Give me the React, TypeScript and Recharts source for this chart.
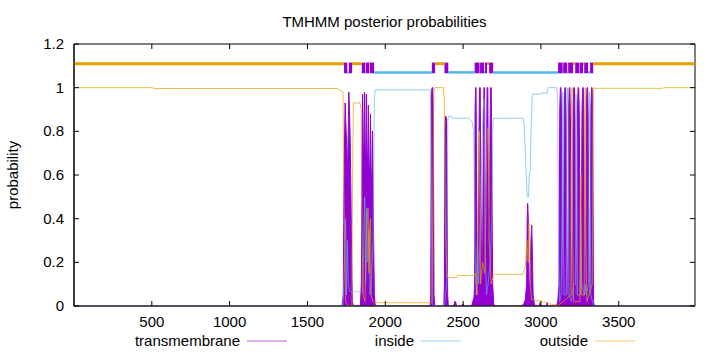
import React from 'react';
import { ComposedChart, Line, Area, XAxis, YAxis, ReferenceLine, ReferenceArea } from 'recharts';

const chartTitle = 'TMHMM posterior probabilities';
const yLabel = 'probability';
const seriesNames = ['transmembrane', 'inside', 'outside'];
const xTicks = [500, 1000, 1500, 2000, 2500, 3000, 3500];
const yTicks = [0, 0.2, 0.4, 0.6, 0.8, 1, 1.2];
const seqLength = 3990;

// posterior probability of transmembrane helix [residue, probability]
const transmembrane: [number, number][] = [
  [0, 0], [1722, 0], [1730, 0.05], [1734, 0.5], [1738, 0.75], [1742, 0.93], [1746, 0.85], [1750, 0.78], [1754, 0.7],
  [1758, 0.6], [1762, 0.8], [1766, 0.98], [1770, 0.9], [1774, 0.78], [1778, 0.6], [1782, 0.35], [1786, 0.12], [1790, 0.02], [1795, 0],
  [1840, 0], [1846, 0.1], [1850, 0.6], [1854, 0.97], [1858, 0.75], [1862, 0.68], [1866, 0.98], [1870, 0.72], [1874, 0.65],
  [1878, 0.97], [1882, 0.72], [1887, 0.65], [1891, 0.92], [1895, 0.65], [1900, 0.6], [1905, 0.88], [1909, 0.62], [1914, 0.58],
  [1918, 0.8], [1922, 0.5], [1926, 0.25], [1930, 0.05], [1936, 0],
  [2288, 0], [2292, 0.05], [2296, 0.95], [2300, 1.0], [2305, 1.0], [2309, 0.9], [2313, 0.05], [2318, 0],
  [2376, 0], [2380, 0.1], [2383, 0.8], [2387, 0.87], [2393, 0.86], [2397, 0.5], [2401, 0.05], [2405, 0],
  [2440, 0], [2446, 0.02], [2452, 0.02], [2458, 0], [2495, 0], [2500, 0.01], [2505, 0],
  [2555, 0], [2562, 0.02], [2570, 0.04], [2574, 0.1], [2577, 0.9], [2580, 1.0], [2583, 1.0], [2586, 0.7], [2591, 0.15],
  [2597, 0.2], [2603, 0.85], [2606, 1.0], [2610, 1.0], [2613, 0.7], [2619, 0.1], [2625, 0.2], [2631, 0.85], [2634, 1.0],
  [2638, 1.0], [2641, 0.6], [2646, 0.2], [2651, 0.7], [2654, 1.0], [2659, 1.0], [2662, 0.5], [2668, 0.15], [2673, 0.8],
  [2677, 1.0], [2681, 1.0], [2685, 0.6], [2690, 0.1], [2697, 0.01], [2702, 0],
  [2875, 0], [2890, 0.01], [2900, 0.03], [2908, 0.1], [2912, 0.4], [2915, 0.47], [2919, 0.4], [2923, 0.1], [2928, 0.08],
  [2936, 0.3], [2941, 0.37], [2945, 0.25], [2950, 0.05], [2958, 0.01], [2965, 0],
  [2990, 0], [2995, 0.015], [3000, 0], [3035, 0], [3040, 0.015], [3045, 0],
  [3100, 0], [3108, 0.02], [3116, 0.1], [3121, 0.9], [3125, 1.0], [3129, 1.0], [3133, 0.85], [3138, 0.05], [3144, 0.05],
  [3150, 0.9], [3154, 1.0], [3158, 1.0], [3162, 0.85], [3167, 0.05], [3173, 0.05], [3178, 0.9], [3182, 1.0], [3186, 1.0],
  [3190, 0.85], [3195, 0.05], [3201, 0.05], [3207, 0.9], [3211, 1.0], [3215, 1.0], [3219, 0.85], [3224, 0.05], [3230, 0.05],
  [3235, 0.9], [3239, 1.0], [3243, 1.0], [3247, 0.85], [3252, 0.05], [3258, 0.05], [3264, 0.9], [3268, 1.0], [3272, 1.0],
  [3276, 0.85], [3281, 0.05], [3287, 0.05], [3292, 0.9], [3296, 1.0], [3300, 1.0], [3304, 0.85], [3309, 0.05], [3315, 0.05],
  [3321, 0.9], [3325, 1.0], [3329, 1.0], [3333, 0.8], [3338, 0.02], [3345, 0], [3990, 0],
];

// posterior probability of inside [residue, probability]
const inside: [number, number][] = [
  [0, 0], [1728, 0], [1738, 0.2], [1745, 0.4], [1750, 0.05], [1756, 0.3], [1762, 0.1], [1770, 0.07], [1780, 0.065],
  [1855, 0.065], [1862, 0.3], [1868, 0.5], [1874, 0.1], [1880, 0.45], [1888, 0.2], [1895, 0.35], [1902, 0.05], [1912, 0.15],
  [1922, 0.3], [1930, 0.95], [1936, 0.99], [2290, 0.99], [2296, 0.5], [2302, 0], [2380, 0], [2395, 0.1], [2402, 0.85],
  [2406, 0.87], [2425, 0.87], [2430, 0.86], [2540, 0.86], [2548, 0.85], [2560, 0.84], [2568, 0.8], [2575, 0.3], [2585, 0.05],
  [2592, 0.3], [2600, 0.1], [2612, 0.4], [2620, 0.7], [2628, 0.9], [2635, 0.95], [2640, 0.3], [2650, 0.05], [2660, 0.1],
  [2675, 0.2], [2685, 0.4], [2692, 0.85], [2698, 0.86], [2885, 0.86], [2892, 0.84], [2900, 0.7], [2912, 0.5], [2920, 0.5],
  [2925, 0.6], [2932, 0.62], [2936, 0.8], [2945, 0.97], [2995, 0.97], [3000, 0.975], [3040, 0.975], [3045, 1.0], [3102, 1.0],
  [3108, 0.95], [3114, 0.2], [3120, 0.02], [3130, 0.05], [3138, 0.6], [3141, 0.98], [3144, 0.3], [3150, 0.05], [3163, 0.05],
  [3167, 0.95], [3170, 1.0], [3174, 0.9], [3180, 0.05], [3196, 0.02], [3210, 0.1], [3222, 0.1], [3225, 0.97], [3229, 0.9],
  [3235, 0.05], [3252, 0.05], [3256, 0.4], [3262, 0.1], [3280, 0.05], [3286, 0.1], [3292, 0.05], [3307, 0.1], [3310, 0.98],
  [3314, 0.9], [3320, 0.05], [3336, 0.01], [3345, 0], [3990, 0],
];

// posterior probability of outside [residue, probability]
const outside: [number, number][] = [
  [0, 1.0], [500, 1.0], [520, 0.996], [1690, 0.996], [1705, 0.99], [1728, 0.98], [1733, 0.55], [1745, 0.02], [1760, 0],
  [1786, 0], [1790, 0.6], [1795, 0.93], [1838, 0.93], [1845, 0.9], [1850, 0.35], [1858, 0.05], [1870, 0.02], [1878, 0.3],
  [1885, 0.42], [1890, 0.45], [1895, 0.15], [1900, 0.35], [1905, 0.4], [1910, 0.05], [1920, 0.02], [1930, 0.015],
  [2292, 0.015], [2300, 0.02], [2312, 0.98], [2318, 1.0], [2374, 1.0], [2379, 0.95], [2388, 0.3], [2398, 0.13], [2460, 0.13],
  [2465, 0.14], [2570, 0.14], [2578, 0.15], [2590, 0.05], [2598, 0.6], [2605, 0.8], [2612, 0.1], [2625, 0.2], [2640, 0.15],
  [2648, 0.55], [2655, 0.8], [2662, 0.82], [2668, 0.3], [2680, 0.1], [2695, 0.14], [2700, 0.145], [2885, 0.145], [2890, 0.16],
  [2900, 0.18], [2910, 0.3], [2918, 0.2], [2923, 0.38], [2928, 0.3], [2933, 0.08], [2940, 0.03], [2960, 0.03], [2970, 0.025],
  [3000, 0.025], [3010, 0.018], [3040, 0.018], [3050, 0.01], [3100, 0.005], [3105, 0], [3193, 0.05], [3197, 0.95], [3200, 1.0],
  [3204, 0.3], [3210, 0.02], [3250, 0.02], [3254, 0.5], [3257, 0.6], [3261, 0.05], [3278, 0.05], [3282, 0.95], [3285, 1.0],
  [3289, 0.3], [3295, 0.02], [3330, 0.1], [3336, 0.9], [3340, 1.0], [3345, 0.997], [3780, 0.997], [3790, 1.0], [3990, 1.0],
];

// predicted topology [start, end]
const outsideSegments: [number, number][] = [
  [0, 1735], [1787, 1849], [1897, 1901], [2320, 2380], [2606, 2609], [2654, 2667],
  [3140, 3143], [3207, 3220], [3271, 3278], [3336, 3990],
];
const insideSegments: [number, number][] = [
  [1756, 1766], [1870, 1874], [1928, 2299], [2405, 2574], [2635, 2641], [2693, 3110],
  [3169, 3175], [3246, 3249], [3303, 3316],
];
const tmSegments: [number, number][] = [
  [1735, 1756], [1766, 1787], [1849, 1870], [1874, 1897], [1901, 1928], [2299, 2320], [2380, 2405],
  [2574, 2606], [2609, 2635], [2641, 2654], [2667, 2693], [3110, 3140], [3143, 3169], [3175, 3207],
  [3220, 3246], [3249, 3271], [3278, 3303], [3316, 3336],
];
const outsideLevel = 1.11;
const insideLevel = 1.07;
const tmLevels: [number, number] = [1.066, 1.115];

const toRows = (pts: [number, number][]) => pts.map(([x, y]) => ({ x, y }));
const tmData = toRows(transmembrane);
const inData = toRows(inside);
const outData = toRows(outside);

const FONT = "'Liberation Sans', Arial, Helvetica, sans-serif";
const PURPLE = '#9400d3';
const BLUE = '#56b4e9';
const ORANGE = '#e69f00';
const PLOT_TOP = 44;
const PLOT_RIGHT = 695;

const XTick = (props: any) => {
  const { x, y, payload } = props;
  return (
    <g>
      <line x1={x} x2={x} y1={y} y2={y - 5} stroke="#000" />
      <line x1={x} x2={x} y1={PLOT_TOP} y2={PLOT_TOP + 5} stroke="#000" />
      <text x={x} y={y + 21} textAnchor="middle" fontFamily={FONT} fontSize={15} fill="#000">
        {payload.value}
      </text>
    </g>
  );
};

const YTick = (props: any) => {
  const { x, y, payload } = props;
  return (
    <g>
      <line x1={x} x2={x + 5} y1={y} y2={y} stroke="#000" />
      <line x1={PLOT_RIGHT} x2={PLOT_RIGHT - 5} y1={y} y2={y} stroke="#000" />
      <text x={x - 10} y={y + 5} textAnchor="end" fontFamily={FONT} fontSize={15} fill="#000">
        {String(payload.value)}
      </text>
    </g>
  );
};

const legendItems = [
  { name: seriesNames[0], textEnd: 240, color: PURPLE },
  { name: seriesNames[1], textEnd: 414, color: BLUE },
  { name: seriesNames[2], textEnd: 588, color: ORANGE },
];

export default function App() {
  return (
    <div style={{ position: 'absolute', left: 0, top: 0, width: 720, height: 352, background: '#fff' }}>
      <ComposedChart
        width={720}
        height={352}
        margin={{ top: 44, right: 25, bottom: 0, left: 0 }}
      >
        <XAxis
          type="number"
          dataKey="x"
          domain={[0, seqLength]}
          ticks={xTicks}
          allowDataOverflow
          height={46}
          tickSize={0}
          tickMargin={0}
          tickLine={false}
          axisLine={{ stroke: '#333' }}
          tick={<XTick />}
          interval={0}
        />
        <YAxis
          type="number"
          domain={[0, 1.2]}
          ticks={yTicks}
          allowDataOverflow
          width={74}
          tickSize={0}
          tickMargin={0}
          tickLine={false}
          axisLine={{ stroke: '#000' }}
          tick={<YTick />}
          interval={0}
        />
        <Area
          data={tmData}
          dataKey="y"
          type="linear"
          stroke={PURPLE}
          strokeWidth={1}
          fill={PURPLE}
          fillOpacity={1}
          dot={false}
          activeDot={false}
          isAnimationActive={false}
        />
        <Line
          data={inData}
          dataKey="y"
          type="linear"
          stroke={BLUE}
          strokeOpacity={0.65}
          strokeWidth={1}
          dot={false}
          activeDot={false}
          isAnimationActive={false}
        />
        <Line
          data={outData}
          dataKey="y"
          type="linear"
          stroke={ORANGE}
          strokeOpacity={0.7}
          strokeWidth={1}
          dot={false}
          activeDot={false}
          isAnimationActive={false}
        />
        {outsideSegments.map(([a, b], i) => (
          <ReferenceLine
            key={'o' + i}
            segment={[{ x: a, y: outsideLevel }, { x: b, y: outsideLevel }]}
            stroke={ORANGE}
            strokeWidth={3}
          />
        ))}
        {insideSegments.map(([a, b], i) => (
          <ReferenceLine
            key={'i' + i}
            segment={[{ x: a, y: insideLevel }, { x: b, y: insideLevel }]}
            stroke={BLUE}
            strokeWidth={2.5}
          />
        ))}
        {tmSegments.map(([a, b], i) => (
          <ReferenceArea
            key={'t' + i}
            x1={a}
            x2={b}
            y1={tmLevels[0]}
            y2={tmLevels[1]}
            fill={PURPLE}
            fillOpacity={1}
            stroke="none"
          />
        ))}
        <ReferenceArea
          x1={0}
          x2={seqLength}
          y1={0}
          y2={1.2}
          fill="none"
          fillOpacity={0}
          stroke="#000"
          strokeWidth={1}
        />
      </ComposedChart>
      <svg
        width={720}
        height={352}
        style={{ position: 'absolute', left: 0, top: 0, pointerEvents: 'none' }}
      >
        <text x={384.5} y={27} textAnchor="middle" fontFamily={FONT} fontSize={15} fill="#000">
          {chartTitle}
        </text>
        <text
          x={18}
          y={175}
          textAnchor="middle"
          fontFamily={FONT}
          fontSize={15}
          fill="#000"
          transform="rotate(-90 18 175)"
        >
          {yLabel}
        </text>
        {legendItems.map((it) => (
          <g key={it.name}>
            <text x={it.textEnd} y={346} textAnchor="end" fontFamily={FONT} fontSize={15} fill="#000">
              {it.name}
            </text>
            <line x1={it.textEnd + 7} x2={it.textEnd + 47} y1={341} y2={341} stroke={it.color} strokeOpacity={0.6} strokeWidth={1} />
          </g>
        ))}
      </svg>
    </div>
  );
}
